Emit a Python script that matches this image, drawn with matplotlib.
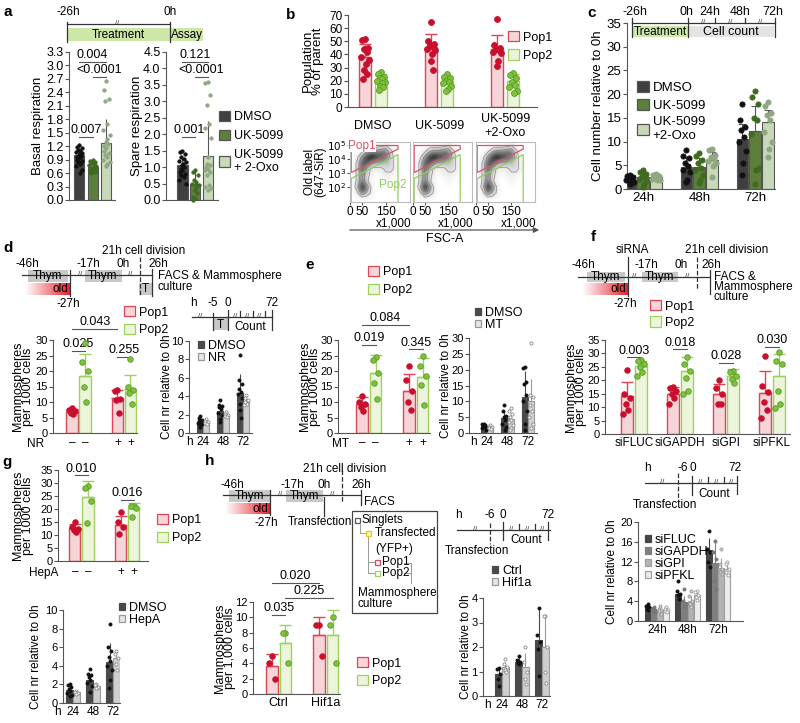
import numpy as np
import matplotlib
matplotlib.use("Agg")
import matplotlib.pyplot as plt
from matplotlib.patches import Rectangle, Polygon
from matplotlib.colors import LinearSegmentedColormap

# ---------------- data ----------------
# a: seahorse respiration
a_labels = ['DMSO', 'UK-5099', 'UK-5099\n+ 2-Oxo']
basal_mean = [1.00, 0.73, 1.28]
basal_sd = [0.17, 0.11, 0.52]
basal_pts = [
    [1.22, 1.18, 1.15, 1.12, 1.10, 1.08, 1.05, 1.03, 1.00, 0.98, 0.96, 0.93, 0.90, 0.87, 0.84, 0.80, 0.75, 0.68, 0.60],
    [0.90, 0.88, 0.85, 0.82, 0.80, 0.78, 0.76, 0.74, 0.72, 0.70, 0.68, 0.66, 0.64, 0.62, 0.60],
    [2.65, 2.45, 2.25, 2.20, 1.70, 1.55, 1.45, 1.35, 1.30, 1.25, 1.20, 1.15, 1.10, 1.05, 1.00, 0.95, 0.90, 0.85, 0.80, 0.75],
]
basal_p = [('0.007', 0, 1, 1.41), ('0.004', 0, 2, 3.08), ('<0.0001', 1, 2, 2.74)]
spare_mean = [1.05, 0.48, 1.35]
spare_sd = [0.25, 0.42, 1.05]
spare_pts = [
    [1.50, 1.45, 1.40, 1.30, 1.25, 1.20, 1.15, 1.10, 1.05, 1.00, 0.95, 0.90, 0.85, 0.80, 0.75, 0.70, 0.60, 0.50],
    [0.90, 0.85, 0.75, 0.60, 0.55, 0.50, 0.45, 0.40, 0.30, 0.20, 0.10, 0.05, 0.00],
    [3.60, 3.55, 3.20, 2.90, 2.30, 2.20, 1.90, 1.30, 1.10, 1.05, 1.00, 0.95, 0.90, 0.85, 0.75, 0.45, 0.40, 0.35, 0.30],
]
spare_p = [('0.001', 0, 1, 1.92), ('0.121', 0, 2, 4.2), ('<0.0001', 1, 2, 3.74)]

# b: population percentages
b_labels = ['DMSO', 'UK-5099', 'UK-5099\n+2-Oxo']
b_pop1_mean = [38, 45.5, 44]
b_pop1_sd = [10, 10, 10.5]
b_pop1_pts = [[52, 51, 45, 44, 42, 38, 36, 33, 28, 25, 21],
              [65, 50, 48, 47, 46, 44, 43, 40, 35, 28],
              [67, 47, 45, 44, 43, 42, 41, 35, 31]]
b_pop2_mean = [20.5, 19.8, 19.8]
b_pop2_sd = [4.4, 4.0, 5.0]
b_pop2_pts = [[27, 25, 23, 22, 21, 20, 19, 18, 16, 15, 13],
              [25, 23, 22, 20, 19, 18, 16, 14, 12],
              [26, 24, 22, 19, 17, 15, 12, 11]]

# b: flow plots (rough event density, FSC x1000 vs log10 label)
flow_density = [
    [0, 0, 0, 0, 0, 0, 0, 1, 0, 0, 0],
    [0, 0, 1, 3, 4, 4, 5, 5, 2, 0, 0],
    [0, 1, 4, 7, 8, 7, 6, 5, 3, 0, 0],
    [0, 2, 6, 6, 4, 3, 3, 3, 2, 1, 0],
    [0, 2, 6, 3, 1, 1, 1, 2, 2, 1, 0],
    [0, 2, 5, 2, 1, 0, 1, 1, 1, 0, 0],
    [0, 2, 5, 2, 0, 0, 0, 1, 0, 0, 0],
    [0, 3, 8, 5, 1, 0, 0, 0, 0, 0, 0],
    [0, 1, 5, 3, 1, 0, 0, 0, 0, 0, 0],
    [0, 0, 0, 0, 0, 0, 0, 0, 0, 0, 0],
]
pop1_gate = [(5, 4.95), (200, 4.95), (200, 4.7), (8, 3.05), (5, 3.05)]
pop2_gate = [(5, 0.93), (5, 2.6), (200, 4.3), (200, 0.93)]

# c: cell counts
c_times = ['24h', '48h', '72h']
c_dmso_mean = [2.0, 4.7, 10.5]
c_dmso_sd = [0.6, 2.0, 3.2]
c_uk_mean = [2.5, 4.7, 12.3]
c_uk_sd = [1.0, 1.9, 5.3]
c_oxo_mean = [2.6, 6.2, 14.2]
c_oxo_sd = [0.5, 1.7, 2.5]
c_dmso_pts = [[3.0, 2.8, 2.5, 2.2, 2.0, 1.8, 1.5, 1.2, 1.0],
              [8.2, 7.0, 6.5, 5.5, 4.8, 4.0, 3.5, 2.0, 1.5],
              [18.0, 14.5, 13.0, 12.5, 11.0, 10.0, 8.0, 5.5, 3.0]]
c_uk_pts = [[4.0, 3.5, 3.2, 2.8, 2.5, 2.2, 1.8, 1.0, 0.5],
            [7.5, 7.0, 6.2, 5.5, 4.5, 4.0, 3.0, 2.0, 1.2],
            [20.7, 19.5, 18.0, 15.0, 14.5, 11.5, 4.5, 4.0, 1.0]]
c_oxo_pts = [[3.2, 3.0, 2.8, 2.6, 2.4, 2.2, 2.0, 1.8],
             [8.5, 8.3, 7.2, 6.8, 6.3, 6.0, 5.5, 4.8, 2.5],
             [18.3, 17.5, 16.0, 15.5, 14.5, 12.0, 10.0, 8.5, 6.7]]

# d: NR mammospheres
d_pop1_mean = [6.8, 11.4]
d_pop1_sd = [0.9, 2.6]
d_pop1_pts = [[8, 7.5, 7, 6.5, 6], [14, 13.5, 11, 10.5, 6.5]]
d_pop2_mean = [18.5, 14.2]
d_pop2_sd = [7.0, 4.6]
d_pop2_pts = [[29, 23, 20, 15, 10], [24, 15, 14, 13, 9.5]]
d_p = [('0.025', 0, 1, 26.5), ('0.043', 0, 3.5, 33.5), ('0.255', 3.5, 4.5, 24.5)]
d_cn_dmso_mean = [1.2, 2.35, 4.35]
d_cn_dmso_sd = [0.4, 0.6, 2.1]
d_cn_nr_mean = [1.2, 2.1, 3.4]
d_cn_nr_sd = [0.2, 0.35, 0.45]
d_cn_dmso_pts = [[1.8, 1.6, 1.4, 1.3, 1.2, 1.1, 1.0, 0.9, 0.7],
                 [3.6, 3.0, 2.9, 2.8, 2.6, 2.2, 2.0, 1.5, 1.2],
                 [8.5, 5.8, 5.3, 4.8, 4.5, 4.2, 3.8, 3.2, 2.5, 1.6]]
d_cn_nr_pts = [[1.5, 1.3, 1.2, 1.1, 1.0], [2.3, 2.1, 2.0, 1.8, 1.7], [4.1, 3.8, 3.6, 3.4, 3.2, 3.0]]

# e: MT mammospheres
e_pop1_mean = [9.5, 13.5]
e_pop1_sd = [2.0, 5.5]
e_pop1_pts = [[12, 10, 9.5, 8.5, 7], [21.5, 17, 13.5, 10, 7.5]]
e_pop2_mean = [19.5, 18.2]
e_pop2_sd = [5.6, 6.0]
e_pop2_pts = [[24.5, 23.5, 19.5, 16, 11], [25, 21.5, 18.5, 15.5, 9]]
e_p = [('0.019', 0, 1, 28.5), ('0.084', 0, 3.5, 35), ('0.345', 3.5, 4.5, 27)]
e_cn_dmso_mean = [2.2, 4.6, 11.5]
e_cn_dmso_sd = [0.8, 2.2, 8.0]
e_cn_mt_mean = [1.8, 4.4, 10.2]
e_cn_mt_sd = [0.6, 1.6, 6.8]
e_cn_dmso_pts = [[3.0, 2.8, 2.5, 2.2, 2.0, 1.5, 1.0],
                 [9.0, 7.0, 5.5, 5.0, 4.0, 3.0, 2.0, 1.0],
                 [21.0, 20.5, 16.0, 15.5, 12.0, 10.0, 7.0, 3.0, 1.0]]
e_cn_mt_pts = [[2.5, 2.0, 1.8, 1.5, 1.2],
               [8.0, 7.0, 6.0, 5.0, 4.0, 3.5, 2.5, 1.5, 1.0],
               [28.5, 12.0, 11.5, 9.0, 7.0, 5.0, 3.0, 1.5]]

# f: siRNA mammospheres
f_groups = ['siFLUC', 'siGAPDH', 'siGPI', 'siPFKL']
f_pop1_mean = [14.2, 15.0, 14.8, 15.3]
f_pop1_sd = [5.0, 2.6, 3.8, 8.0]
f_pop1_pts = [[24, 15, 13.5, 11, 9, 7.5], [17.5, 17, 16, 15, 13.5, 11],
              [20, 17, 15, 11, 11], [29, 18, 15.5, 12, 9, 6]]
f_pop2_mean = [25.2, 23.3, 21.5, 21.5]
f_pop2_sd = [2.0, 5.5, 2.8, 8.2]
f_pop2_pts = [[27.5, 27, 26, 25, 23, 21.5], [28.5, 26, 23.5, 21, 16, 15],
              [23.5, 23, 21.5, 20.5, 19], [30.5, 27, 26, 16, 11, 9.5]]
f_p = ['0.003', '0.018', '0.028', '0.030']
f_p_y = [28.5, 31.5, 26.5, 32.5]
f_cn_labels = ['siFLUC', 'siGAPDH', 'siGPI', 'siPFKL']
f_cn_mean = [[2.8, 5.5, 14.3], [2.3, 3.8, 11.8], [2.2, 4.0, 10.8], [2.3, 5.2, 10.5]]
f_cn_sd = [[0.5, 0.8, 2.5], [0.4, 1.3, 4.3], [0.4, 1.0, 2.0], [0.3, 0.6, 1.3]]
f_cn_pts = [
    [[3.5, 3.0, 2.8, 2.5, 2.2], [8.0, 6.0, 5.5, 5.2, 4.5], [18.2, 14.5, 14.0, 12.0, 11.0]],
    [[2.8, 2.5, 2.2, 2.0, 1.8], [6.5, 4.0, 3.5, 3.0, 2.8], [16.2, 14.0, 12.5, 8.0, 6.5]],
    [[3.0, 2.5, 2.2, 2.0, 1.5], [6.0, 5.0, 4.0, 3.5, 2.8], [14.5, 11.5, 10.5, 10.0, 9.5]],
    [[2.8, 2.5, 2.2, 2.0, 1.8], [6.0, 5.8, 5.2, 4.8, 4.2], [12.0, 11.5, 10.5, 10.0, 9.2]],
]

# g: HepA mammospheres
g_pop1_mean = [12.8, 14.0]
g_pop1_sd = [1.5, 3.5]
g_pop1_pts = [[15, 13, 12.5, 12, 11], [19, 15, 13, 10.5]]
g_pop2_mean = [24.8, 20.4]
g_pop2_sd = [6.0, 1.8]
g_pop2_pts = [[29, 28, 23, 14.5], [21, 21, 20.5, 17]]
g_p = [('0.010', 0, 1, 33), ('0.016', 3.5, 4.5, 23.5)]
g_cn_dmso_mean = [1.4, 2.5, 4.4]
g_cn_dmso_sd = [0.5, 0.6, 2.0]
g_cn_hepa_mean = [1.2, 1.8, 4.8]
g_cn_hepa_sd = [0.15, 0.25, 0.8]
g_cn_dmso_pts = [[2.0, 1.9, 1.7, 1.5, 1.3, 1.1, 0.9, 0.7],
                 [3.7, 3.1, 3.0, 2.8, 2.5, 2.2, 1.8, 1.2],
                 [8.5, 6.0, 5.6, 5.0, 4.5, 4.0, 3.5, 2.5, 1.6]]
g_cn_hepa_pts = [[1.3, 1.2, 1.1, 1.0], [2.0, 1.9, 1.7, 1.6], [5.6, 5.3, 4.8, 4.2, 3.6]]

# h: Hif1a mammospheres
h_groups = ['Ctrl', 'Hif1a']
h_pop1_mean = [3.7, 7.7]
h_pop1_sd = [1.5, 2.3]
h_pop1_pts = [[5, 4, 2], [9, 9, 5]]
h_pop2_mean = [6.7, 7.7]
h_pop2_sd = [2.3, 3.2]
h_pop2_pts = [[8, 8, 4], [10, 9, 4]]
h_p = [('0.035', 0, 1, 10.3), ('0.020', 0, 3.5, 14.5), ('0.225', 1, 4.5, 12.5)]
h_cn_ctrl_mean = [0.9, 1.4, 2.3]
h_cn_ctrl_sd = [0.25, 0.2, 1.3]
h_cn_hif_mean = [1.2, 1.2, 2.0]
h_cn_hif_sd = [0.2, 0.55, 1.25]
h_cn_ctrl_pts = [[1.15, 1.1, 0.9, 0.7, 0.4], [1.65, 1.45, 1.4, 1.35, 1.3], [3.6, 2.5, 2.2, 1.9, 0.8]]
h_cn_hif_pts = [[1.5, 1.3, 1.2, 1.05, 1.0], [2.0, 1.4, 1.0, 0.7, 0.5], [3.25, 3.25, 2.0, 1.0, 0.55]]

# ---------------- style ----------------
plt.rcParams['font.family'] = ['Liberation Sans', 'DejaVu Sans']
plt.rcParams['font.size'] = 9
plt.rcParams['axes.linewidth'] = 0.8
plt.rcParams['axes.edgecolor'] = '#555555'
plt.rcParams['xtick.color'] = '#555555'
plt.rcParams['ytick.color'] = '#555555'
plt.rcParams['xtick.labelcolor'] = 'black'
plt.rcParams['ytick.labelcolor'] = 'black'

GRAY = '#555555'
P1 = ('#f6d5d8', '#dc4655', '#c8102e', '#c8102e')
P2 = ('#ecf5dc', '#9ed160', '#7ec23c', '#5a9a25')
A_FACE = ['#3f3f3f', '#5c7f3c', '#c8d9b9']
A_DOT = ['#111111', '#3e6b1f', '#8fa883']
DARK = ('#4a4a4a', '#4a4a4a', '#111111', '#111111')
LIGHT = ('#cfcfcf', '#9a9a9a', 'white', '#888888')
SWARM = np.array([0.0, -0.25, 0.25, -0.12, 0.12, -0.33, 0.33, 0.06, -0.06, 0.18, -0.18])

W, H = 800, 723
fig = plt.figure(figsize=(W / 100, H / 100), dpi=100)
ov = fig.add_axes([0, 0, 1, 1])
ov.set_zorder(10)
ov.axis('off')


def px_axes(x0, y0, x1, y1):
    return fig.add_axes([x0 / W, 1 - y1 / H, (x1 - x0) / W, (y1 - y0) / H])


def bar_axes(rect, xlim, ylim, yticks, fmt='{:g}', size=9):
    ax = px_axes(*rect)
    ax.set_xlim(xlim)
    ax.set_ylim(ylim)
    ax.set_yticks(yticks)
    ax.set_yticklabels([fmt.format(v) for v in yticks])
    ax.spines[['top', 'right']].set_visible(False)
    ax.tick_params(axis='y', length=3, width=0.8, pad=1, labelsize=size)
    ax.tick_params(axis='x', length=0, pad=2, labelsize=size)
    ax.set_xticks([])
    ax.patch.set_alpha(0)
    return ax


def draw_bar(ax, x, mean, sd, pts, fc, ec, dc, dec, width, s=16, cap=4, lw=1.0):
    ax.bar(x, mean, width, color=fc, edgecolor=ec, linewidth=lw, zorder=2)
    ax.errorbar(x, mean, yerr=[[0], [sd]], fmt='none', ecolor=ec, elinewidth=lw,
                capsize=cap, capthick=lw, zorder=3)
    offs = np.resize(SWARM, len(pts)) * width
    ax.scatter(x + offs, pts, s=s, color=dc, edgecolors=dec, linewidths=0.6,
               zorder=4, clip_on=False)


def pval(ax, x1, x2, y, s, size=9):
    ax.plot([x1, x2], [y, y], color=GRAY, lw=0.8, clip_on=False)
    ax.annotate(s, ((x1 + x2) / 2, y), xytext=(0, 0.5), textcoords='offset points',
                ha='center', va='bottom', fontsize=size, annotation_clip=False)


def under(ax, x, s, dy=10, **kw):
    ax.annotate(s, (x, 0), xycoords=('data', 'axes fraction'), xytext=(0, -dy),
                textcoords='offset pixels', ha='center', va='center',
                annotation_clip=False, **kw)


def legend_px(ax, entries, x, y, size=9, hl=0.9, sp=0.25):
    handles = [Rectangle((0, 0), 1, 1, fc=fc, ec=ec, lw=0.9) for fc, ec, _ in entries]
    ax.legend(handles, [e[2] for e in entries], loc='upper left',
              bbox_to_anchor=(x / W, 1 - y / H), bbox_transform=fig.transFigure,
              frameon=False, fontsize=size, handlelength=hl, handleheight=hl,
              handletextpad=0.3, labelspacing=sp, borderpad=0, borderaxespad=0)


def t(x, y, s, ha='center', va='center', size=8.5, **kw):
    ov.text(x, y, s, ha=ha, va=va, fontsize=size, **kw)


def ylab(x, y0, y1, s, size=9):
    ov.text(x, (y0 + y1) / 2, s, rotation=90, ha='center', va='center',
            fontsize=size, linespacing=0.88)


def hl(x0, x1, y, color='#333333'):
    ov.plot([x0, x1], [y, y], color=color, lw=0.9)


def vl(x, y0, y1, ls='-', color='#333333'):
    ov.plot([x, x], [y0, y1], color=color, lw=0.9, ls=ls)


def rect(x0, x1, y0, y1, fc='#c8c8c8', ec='none'):
    ov.add_patch(Rectangle((x0, y0), x1 - x0, y1 - y0, fc=fc, ec=ec, lw=0.9))


def brk(x, y):
    t(x, y - 0.5, '//', size=5.5, color='#333333')


OLD_CMAP = LinearSegmentedColormap.from_list('old', ['#ffffff', '#e3262f'])


def old_box(x0, x1, y0, y1):
    ov.imshow(np.linspace(0, 1, 64)[None, :], extent=(x0, x1, y1, y0), cmap=OLD_CMAP,
              aspect='auto', zorder=1)
    t(x1 - 2, (y0 + y1) / 2, 'old', ha='right')


def mammo(rect_px, xlim, ylim, yticks, p1m, p1s, p1p, p2m, p2s, p2p, xs1, xs2, width):
    ax = bar_axes(rect_px, xlim, ylim, yticks, size=8)
    for x, m, s, p in zip(xs1, p1m, p1s, p1p):
        draw_bar(ax, x, m, s, p, P1[0], P1[1], P1[2], P1[3], width)
    for x, m, s, p in zip(xs2, p2m, p2s, p2p):
        draw_bar(ax, x, m, s, p, P2[0], P2[1], P2[2], P2[3], width)
    return ax


def cellnr(rect_px, xlim, ylim, yticks, series, offs, width, labels, hx=None):
    ax = bar_axes(rect_px, xlim, ylim, yticks, size=8)
    xs = np.arange(3)
    for (means, sds, pts, fc, ec, dc, dec), o in zip(series, offs):
        for i in range(3):
            draw_bar(ax, xs[i] + o, means[i], sds[i], pts[i], fc, ec, dc, dec, width,
                     s=5, cap=0, lw=0.8)
    ax.set_xticks(xs)
    ax.set_xticklabels(labels, fontsize=8.5)
    if hx is not None:
        under(ax, hx, 'h', dy=9, fontsize=8.5)
    return ax


# ---------------- a ----------------
axa1 = bar_axes((69, 52, 115, 200), (-0.75, 2.65), (0, 3.3),
                [0, 0.3, 0.6, 0.9, 1.2, 1.5, 1.8, 2.1, 2.4, 2.7, 3.0, 3.3], '{:.1f}')
for i in range(3):
    draw_bar(axa1, i, basal_mean[i], basal_sd[i], basal_pts[i], A_FACE[i], GRAY,
             A_DOT[i], A_DOT[i], 0.75, s=6, cap=0, lw=0.8)
for s, x1, x2, y in basal_p:
    pval(axa1, x1, x2, y, s)
axa2 = bar_axes((166, 52, 218, 200), (-1.3, 2.8), (0, 4.5),
                [0, 0.5, 1.0, 1.5, 2.0, 2.5, 3.0, 3.5, 4.0, 4.5], '{:.1f}')
for i in range(3):
    draw_bar(axa2, i, spare_mean[i], spare_sd[i], spare_pts[i], A_FACE[i], GRAY,
             A_DOT[i], A_DOT[i], 0.8, s=6, cap=0, lw=0.8)
for s, x1, x2, y in spare_p:
    pval(axa2, x1, x2, y, s)
ylab(38, 52, 200, 'Basal respiration', size=9.5)
ylab(137, 52, 200, 'Spare respiration', size=9.5)
legend_px(axa2, [(A_FACE[i], GRAY, a_labels[i]) for i in range(3)], 219, 111, sp=0.5)

vl(67, 22, 42)
vl(170, 22, 42)
rect(67, 170, 28, 41, fc='#cde7a9')
rect(170, 203, 28, 41, fc='#cde7a9')
hl(67, 170, 24)
brk(117, 24)
t(118, 35, 'Treatment', size=8.5)
t(187, 35, 'Assay', size=8.5)
t(68, 12, '-26h')
t(170, 12, '0h')

# ---------------- b ----------------
axb = bar_axes((348, 15, 537, 107), (-0.38, 2.48), (0, 70), list(range(0, 71, 10)), size=8.5)
for i in range(3):
    draw_bar(axb, i - 0.12, b_pop1_mean[i], b_pop1_sd[i], b_pop1_pts[i],
             P1[0], P1[1], P1[2], P1[3], 0.18, s=18)
    draw_bar(axb, i + 0.12, b_pop2_mean[i], b_pop2_sd[i], b_pop2_pts[i],
             P2[0], P2[1], P2[2], P2[3], 0.18, s=18)
    under(axb, i, b_labels[i], dy=19, fontsize=9, linespacing=1.2)
ylab(313, 15, 107, 'Population\n% of parent', size=9.5)
legend_px(axb, [(P1[0], P1[1], 'Pop1'), (P2[0], P2[1], 'Pop2')], 508, 31, size=9, sp=0.45)

flow_x = [(350, 410), (413, 472), (476, 535)]
for k, (x0, x1) in enumerate(flow_x):
    fa = px_axes(x0, 142, x1, 202)
    dens = np.array(flow_density)
    fa.imshow(dens, extent=(0, 220, 0.93, 5.2), cmap='Greys',
              interpolation='bicubic', aspect='auto', vmin=0, vmax=8)
    fa.contour(np.linspace(10, 210, 11), np.linspace(4.99, 1.14, 10), dens,
               levels=[1.5, 3.5, 5.5], colors='#777777', linewidths=0.4)
    fa.add_patch(Polygon(pop1_gate, closed=True, fill=False, ec='#e0505f', lw=0.9))
    gx, gy = zip(*pop2_gate)
    fa.plot(gx, gy, color='#8fd05a', lw=0.9)
    fa.set_xlim(0, 250)
    fa.set_ylim(0.93, 5.2)
    for sp in fa.spines.values():
        sp.set_color('#bbbbbb')
    fa.set_xticks([0, 50, 150])
    fa.set_xticklabels(['0', '50', '150'])
    fa.tick_params(axis='x', length=2, pad=1, labelsize=8.5)
    fa.annotate('x1,000', (1, 0), xycoords='axes fraction', xytext=(1, -22),
                textcoords='offset pixels', ha='right', va='center', fontsize=8.5)
    if k == 0:
        fa.set_yticks([2, 3, 4, 5])
        fa.set_yticklabels(['$10^2$', '$10^3$', '$10^4$', '$10^5$'])
        fa.tick_params(axis='y', length=2, pad=0.5, labelsize=7.5)
        fa.text(50, 4.95, 'Pop1', color='#e0505f', fontsize=8.5, ha='center', va='center',
                bbox=dict(fc='white', ec='none', pad=0.3))
        fa.text(180, 2.15, 'Pop2', color='#8fd05a', fontsize=8.5, ha='center', va='center')
    else:
        fa.set_yticks([])
ylab(315, 142, 202, 'Old label\n(647-SiR)', size=8.5)
ov.annotate('', xy=(542, 230), xytext=(347, 230),
            arrowprops=dict(arrowstyle='-|>', color=GRAY, lw=0.9, mutation_scale=8))
t(445, 239, 'FSC-A', size=9)

# ---------------- c ----------------
axc = bar_axes((627, 23, 775, 189), (-0.29, 2.35), (0, 35), list(range(0, 36, 5)), size=9.5)
for off, mean, sd, pts, i in [(-0.23, c_dmso_mean, c_dmso_sd, c_dmso_pts, 0),
                              (0.0, c_uk_mean, c_uk_sd, c_uk_pts, 1),
                              (0.23, c_oxo_mean, c_oxo_sd, c_oxo_pts, 2)]:
    for j in range(3):
        draw_bar(axc, j + off, mean[j], sd[j], pts[j], A_FACE[i], GRAY, A_DOT[i],
                 A_DOT[i], 0.21, s=14, cap=3, lw=0.8)
axc.set_xticks([0, 1, 2])
axc.set_xticklabels(c_times)
ylab(598, 23, 189, 'Cell number relative to 0h', size=9.5)
legend_px(axc, [(A_FACE[0], GRAY, 'DMSO'), (A_FACE[1], GRAY, 'UK-5099'),
                (A_FACE[2], GRAY, 'UK-5099\n+2-Oxo')], 637, 81, size=9.5, sp=0.35)
hl(632, 775, 23)
for x in (632, 688, 775):
    vl(x, 18, 37)
for x in (715, 745):
    vl(x, 18, 23)
for x in (703, 730, 760):
    brk(x, 23)
rect(633, 688, 26, 37, fc='#cde7a9')
rect(688, 774, 26, 37, fc='#e4e4e4')
t(660, 32, 'Treatment', size=8.5)
t(731, 32, 'Cell count', size=9)
t(635, 12, '-26h', size=9)
t(687, 12, '0h', size=9)
t(710, 12, '24h', size=9)
t(740, 12, '48h', size=9)
t(773, 12, '72h', size=9)

# ---------------- d ----------------
axd = mammo((53, 340, 137, 433), (-1.46, 5.0), (0, 30), list(range(0, 31, 5)),
            d_pop1_mean, d_pop1_sd, d_pop1_pts, d_pop2_mean, d_pop2_sd, d_pop2_pts,
            [0, 3.5], [1, 4.5], 0.85)
for s, x1, x2, y in d_p:
    pval(axd, x1, x2, y, s)
for x, s in zip([0, 1, 3.5, 4.5], ['–', '–', '+', '+']):
    under(axd, x, s, fontsize=8.5)
under(axd, -2.8, 'NR', dy=11, fontsize=8.5)
ylab(23, 340, 433, 'Mammospheres\nper 1000 cells')
legend_px(axd, [(P1[0], P1[1], 'Pop1'), (P2[0], P2[1], 'Pop2')], 124, 306, size=9, sp=0.4)

axd2 = cellnr((189, 341, 252, 433), (-0.7, 2.45), (0, 10), [0, 2, 4, 6, 8, 10],
              [(d_cn_dmso_mean, d_cn_dmso_sd, d_cn_dmso_pts) + DARK,
               (d_cn_nr_mean, d_cn_nr_sd, d_cn_nr_pts) + LIGHT],
              [-0.15, 0.15], 0.3, ['24', '48', '72'], hx=-0.66)
ylab(167, 341, 433, 'Cell nr relative to 0h', size=8.5)
legend_px(axd2, [('#4a4a4a', '#4a4a4a', 'DMSO'), ('#e6e6e6', '#9a9a9a', 'NR')], 198, 340,
          size=9, hl=0.5, sp=0.0)

hl(22, 152, 275)
rect(28, 68, 270, 282)
t(48, 276, 'Thym')
old_box(25, 70, 283, 295)
vl(70, 270, 296)
t(27, 264, '-46h')
t(68, 304, '-27h')
brk(80, 275)
rect(85, 122, 270, 282)
t(103, 276, 'Thym')
t(88, 264, '-17h')
t(123, 264, '0h')
brk(130, 275)
vl(140, 257, 296, ls='--')
rect(139, 152, 283, 295)
t(145.5, 289, 'T')
vl(152, 269, 296)
t(158, 264, '26h')
t(144, 251, '21h cell division')
t(158, 276, 'FACS & Mammosphere', ha='left')
t(158, 287, 'culture', ha='left')

t(193, 303, 'h')
t(213, 303, '-5')
t(228, 303, '0')
t(272, 303, '72')
hl(192, 272, 317)
brk(200, 317)
rect(213, 228, 318, 330)
t(220.5, 325, 'T')
vl(213, 313, 330)
vl(228, 310, 330)
for x in (240, 253, 265):
    vl(x, 311, 317)
for x in (235, 247, 259):
    brk(x, 317)
vl(272, 310, 330)
t(250, 327, 'Count')

# ---------------- e ----------------
axe = mammo((338, 340, 430, 433), (-1.78, 5.04), (0, 30), list(range(0, 31, 5)),
            e_pop1_mean, e_pop1_sd, e_pop1_pts, e_pop2_mean, e_pop2_sd, e_pop2_pts,
            [0, 3.5], [1, 4.5], 0.85)
for s, x1, x2, y in e_p:
    pval(axe, x1, x2, y, s)
for x, s in zip([0, 1, 3.5, 4.5], ['–', '–', '+', '+']):
    under(axe, x, s, fontsize=8.5)
under(axe, -1.6, 'MT', dy=11, fontsize=8.5)
ylab(310, 340, 433, 'Mammospheres\nper 1000 cells')
legend_px(axe, [(P1[0], P1[1], 'Pop1'), (P2[0], P2[1], 'Pop2')], 368, 266, size=9, sp=0.4)

axe2 = cellnr((469, 338, 537, 433), (-0.88, 2.44), (0, 30), [0, 5, 10, 15, 20, 25, 30],
              [(e_cn_dmso_mean, e_cn_dmso_sd, e_cn_dmso_pts) + DARK,
               (e_cn_mt_mean, e_cn_mt_sd, e_cn_mt_pts) + LIGHT],
              [-0.15, 0.15], 0.3, ['24', '48', '72'], hx=-0.68)
ylab(446, 338, 433, 'Cell nr relative to 0h', size=8.5)
legend_px(axe2, [('#4a4a4a', '#4a4a4a', 'DMSO'), ('#e6e6e6', '#9a9a9a', 'MT')], 475, 307,
          size=9, hl=0.5, sp=0.0)

# ---------------- f ----------------
axf = bar_axes((605, 340, 790, 434), (-0.63, 3.39), (0, 35), list(range(0, 36, 5)), size=8)
for i in range(4):
    draw_bar(axf, i - 0.15, f_pop1_mean[i], f_pop1_sd[i], f_pop1_pts[i],
             P1[0], P1[1], P1[2], P1[3], 0.25)
    draw_bar(axf, i + 0.15, f_pop2_mean[i], f_pop2_sd[i], f_pop2_pts[i],
             P2[0], P2[1], P2[2], P2[3], 0.25)
    pval(axf, i - 0.15, i + 0.15, f_p_y[i], f_p[i])
axf.set_xticks(range(4))
axf.set_xticklabels(f_groups, fontsize=8.5)
ylab(576, 340, 434, 'Mammospheres\nper 1000 cells')
legend_px(axf, [(P1[0], P1[1], 'Pop1'), (P2[0], P2[1], 'Pop2')], 650, 300, size=9, sp=0.3)

f_fc = ['#454545', '#7f7f7f', '#b3b3b3', '#ececec']
f_ec = ['#454545', '#7f7f7f', '#a0a0a0', '#a0a0a0']
f_dc = ['#111111', '#777777', '#cfcfcf', 'white']
f_dec = ['#111111', '#777777', '#999999', '#999999']
axf2 = cellnr((638, 522, 743, 621), (-0.62, 2.82), (0, 20), [0, 4, 8, 12, 16, 20],
              [(f_cn_mean[k], f_cn_sd[k], f_cn_pts[k], f_fc[k], f_ec[k], f_dc[k], f_dec[k])
               for k in range(4)],
              [-0.3, -0.1, 0.1, 0.3], 0.19, ['24h', '48h', '72h'])
ylab(612, 522, 621, 'Cell nr relative to 0h', size=8.5)
legend_px(axf2, [(f_fc[k], f_ec[k], f_cn_labels[k]) for k in range(4)], 645, 534,
          size=9, hl=0.5, sp=0.0)

hl(578, 710, 277)
rect(587, 625, 272, 282)
t(606, 277, 'Thym')
old_box(582, 628, 283, 295)
vl(628, 257, 296)
t(632, 250, 'siRNA')
t(583, 265, '-46h')
t(625, 304, '-27h')
brk(634, 277)
t(646, 265, '-17h')
rect(642, 678, 272, 282)
t(660, 277, 'Thym')
t(681, 265, '0h')
brk(687, 277)
vl(697, 257, 290, ls='--')
t(711, 265, '26h')
vl(710, 270, 294)
t(727, 250, '21h cell division')
t(714, 277, 'FACS &', ha='left')
t(714, 287, 'Mammosphere', ha='left')
t(714, 297, 'culture', ha='left')

t(647, 468, 'h')
t(683, 468, '-6')
t(693, 468, '0')
t(735, 468, '72')
hl(645, 737, 483)
brk(662, 483)
vl(678, 473, 499, ls='--')
vl(692, 476, 495)
for x in (708, 724):
    vl(x, 477, 483)
for x in (700, 716, 731):
    brk(x, 483)
vl(737, 476, 494)
t(714, 494, 'Count')
t(665, 505, 'Transfection')

# ---------------- g ----------------
axg = mammo((58, 470, 148, 561), (-1.3, 5.6), (0, 35), list(range(0, 36, 5)),
            g_pop1_mean, g_pop1_sd, g_pop1_pts, g_pop2_mean, g_pop2_sd, g_pop2_pts,
            [0, 3.5], [1, 4.5], 0.85)
for s, x1, x2, y in g_p:
    pval(axg, x1, x2, y, s)
for x, s in zip([0, 1, 3.5, 4.5], ['–', '–', '+', '+']):
    under(axg, x, s, dy=11, fontsize=8.5)
under(axg, -2.4, 'HepA', dy=12, fontsize=8.5)
ylab(23, 470, 561, 'Mammospheres\nper 1000 cells')
legend_px(axg, [(P1[0], P1[1], 'Pop1'), (P2[0], P2[1], 'Pop2')], 157, 514, size=9, sp=0.4)

axg2 = cellnr((63, 610, 120, 703), (-0.5, 2.35), (0, 10), [0, 2, 4, 6, 8, 10],
              [(g_cn_dmso_mean, g_cn_dmso_sd, g_cn_dmso_pts) + DARK,
               (g_cn_hepa_mean, g_cn_hepa_sd, g_cn_hepa_pts) + LIGHT],
              [-0.17, 0.17], 0.32, ['24', '48', '72'], hx=-0.8)
ylab(36, 610, 703, 'Cell nr relative to 0h', size=8.5)
legend_px(axg2, [('#4a4a4a', '#4a4a4a', 'DMSO'), ('#e6e6e6', '#9a9a9a', 'HepA')], 119, 602,
          size=9, hl=0.5, sp=0.0)

# ---------------- h ----------------
axh = mammo((253, 602, 340, 694), (-1.4, 5.04), (0, 12), [0, 2, 4, 6, 8, 10, 12],
            h_pop1_mean, h_pop1_sd, h_pop1_pts, h_pop2_mean, h_pop2_sd, h_pop2_pts,
            [0, 3.5], [1, 4.5], 0.85)
for s, x1, x2, y in h_p:
    pval(axh, x1, x2, y, s)
axh.set_xticks([0.5, 4.0])
axh.set_xticklabels(h_groups, fontsize=9)
ylab(225, 602, 694, 'Mammospheres\nper 1,000 cells')
legend_px(axh, [(P1[0], P1[1], 'Pop1'), (P2[0], P2[1], 'Pop2')], 357, 657, size=9, sp=0.4)

axh2 = cellnr((483, 598, 550, 696), (-0.95, 2.4), (0, 4), [0, 1, 2, 3, 4],
              [(h_cn_ctrl_mean, h_cn_ctrl_sd, h_cn_ctrl_pts) + DARK,
               (h_cn_hif_mean, h_cn_hif_sd, h_cn_hif_pts) + LIGHT],
              [-0.17, 0.17], 0.32, ['24', '48', '72'], hx=-0.75)
ylab(466, 598, 696, 'Cell nr relative to 0h', size=8.5)
legend_px(axh2, [('#4a4a4a', '#4a4a4a', 'Ctrl'), ('#e6e6e6', '#9a9a9a', 'Hif1a')], 492, 565,
          size=9, hl=0.5, sp=0.0)

hl(223, 361, 495)
rect(229, 270, 490, 502)
t(249.5, 496, 'Thym')
old_box(225, 270, 503, 514)
vl(270, 490, 515)
t(232, 485, '-46h')
t(266, 523, '-27h')
brk(280, 495)
t(292, 485, '-17h')
rect(286, 323, 490, 502)
t(304.5, 496, 'Thym')
t(324, 485, '0h')
vl(324, 497, 516)
t(320, 522, 'Transfection')
brk(332, 495)
vl(342, 470, 503, ls='--')
t(361, 485, '26h')
vl(361, 490, 505)
t(364, 502, 'FACS', ha='left')
t(345, 469, '21h cell division')

rect(352, 437, 511, 613, fc='white', ec='#444444')
ov.plot([360, 360, 365], [523, 533, 533], color='#999999', lw=0.7)
ov.plot([368, 368], [537, 573], color='#999999', lw=0.7)
ov.plot([368, 374], [562, 562], color='#999999', lw=0.7)
ov.plot([368, 374], [573, 573], color='#999999', lw=0.7)
ov.plot([404, 411, 411], [563, 563, 583], color='#999999', lw=0.7)
ov.plot([404, 411], [573, 573], color='#999999', lw=0.7)
for x, y, ec, fc in [(357, 520, '#555555', 'white'), (368, 533, '#e8c820', '#fff6a0'),
                     (377, 562, '#dc4655', 'white'), (377, 573, '#9ed160', 'white')]:
    rect(x - 2.5, x + 2.5, y - 2.5, y + 2.5, fc=fc, ec=ec)
t(362, 520, 'Singlets', ha='left')
t(375, 533, 'Transfected', ha='left')
t(375, 549, '(YFP+)', ha='left')
t(382, 562, 'Pop1', ha='left')
t(382, 573, 'Pop2', ha='left')
t(358, 593, 'Mammosphere', ha='left')
t(358, 604, 'culture', ha='left')

t(458, 515, 'h')
t(490, 515, '-6')
t(503, 515, '0')
t(548, 515, '72')
hl(457, 550, 530)
brk(475, 530)
vl(490, 523, 544, ls='--')
vl(503, 522, 540)
for x in (519, 535):
    vl(x, 524, 530)
for x in (511, 527, 542):
    brk(x, 530)
vl(548, 522, 540)
t(526, 540, 'Count')
t(477, 551, 'Transfection')

# ---------------- panel letters ----------------
for s, x, y in [('a', 8, 12), ('b', 291, 15), ('c', 592, 13), ('d', 8, 248),
                ('e', 310, 265), ('f', 593, 237), ('g', 7, 462), ('h', 210, 461)]:
    t(x, y, s, size=11, fontweight='bold')

ov.set_xlim(0, W)
ov.set_ylim(H, 0)
fig.savefig('out.png', dpi=100)
